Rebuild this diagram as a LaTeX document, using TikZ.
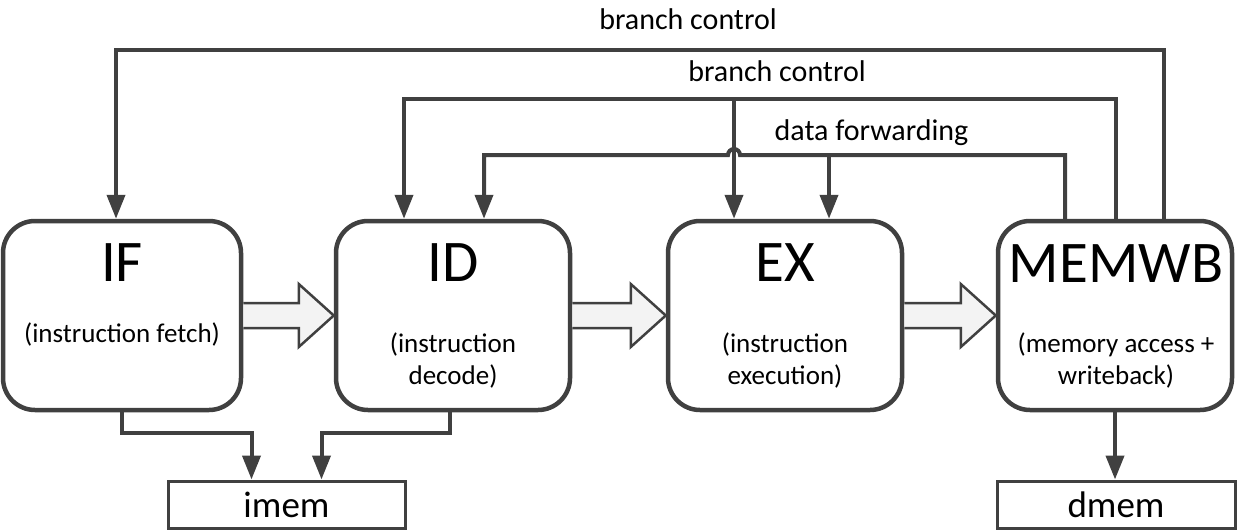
\documentclass[tikz,border=0pt]{standalone}
\usepackage{fontspec}
\setmainfont{Carlito}
\usetikzlibrary{arrows.meta,calc}
\definecolor{lc}{HTML}{404040}
\definecolor{fatfill}{HTML}{F3F3F3}
\tikzset{
  stage/.style={draw=lc, line width=4.5pt, rounded corners=32pt, fill=white,
    minimum width=234pt, minimum height=189pt, inner sep=0pt},
  mem/.style={draw=lc, line width=3pt, fill=white,
    minimum width=237pt, minimum height=47pt, inner sep=0pt,
    font=\fontsize{37}{40}\selectfont},
  big/.style={inner sep=0pt, anchor=base, font=\fontsize{59}{62}\selectfont},
  small/.style={inner sep=0pt, anchor=base, font=\fontsize{27}{32}\selectfont},
  lab/.style={inner sep=0pt, anchor=base, font=\fontsize{30}{34}\selectfont},
  arr/.style={draw=lc, line width=4pt, -{Triangle[width=18pt,length=24pt]}},
  fat/.style={draw=lc, line width=2.5pt, fill=fatfill, line join=miter},
}
\newcommand{\fatarr}[2]{%
  \draw[fat] ([yshift=12.5pt]#1.east) -- ([xshift=-35pt,yshift=12.5pt]#2.west)
    -- ([xshift=-35pt,yshift=31.5pt]#2.west) -- (#2.west)
    -- ([xshift=-35pt,yshift=-31.5pt]#2.west) -- ([xshift=-35pt,yshift=-12.5pt]#2.west)
    -- ([yshift=-12.5pt]#1.east);}
\begin{document}
\begin{tikzpicture}[x=1pt,y=-1pt]
\useasboundingbox (0,0) rectangle (1238,532);
% helper heights
\coordinate (hb1) at (0,50);
\coordinate (hb2) at (0,99);
\coordinate (hdf) at (0,155);
\coordinate (hlow) at (0,433);
% stages
\node[stage, minimum width=238pt] (if) at (122,315.5) {};
\node[stage] (id) at (453,315.5) {};
\node[stage] (ex) at (785,315.5) {};
\node[stage] (mw) at (1115,315.5) {};
% memories
\node[mem] (imem) at (286.5,504.5) {imem};
\node[mem, minimum width=238pt] (dmem) at (1116,504.5) {dmem};
% stage texts
\node[big] (ift) at (122,281) {IF};
\node[small] (ifs) at (122,342) {(instruction fetch)};
\node[big] (idt) at (453,281) {ID};
\node[small] (ids1) at (453,352) {(instruction};
\node[small] (ids2) at (453,384) {decode)};
\node[big] (ext) at (785,281) {EX};
\node[small] (exs1) at (785,352) {(instruction};
\node[small] (exs2) at (785,384) {execution)};
\node[big] (mwt) at (1116,282) {MEMWB};
\node[small] (mws1) at (1116,352) {(memory access +};
\node[small] (mws2) at (1116,384) {writeback)};
% fat arrows
\fatarr{if}{id}
\fatarr{id}{ex}
\fatarr{ex}{mw}
% feedback connectors
\draw[arr] ([xshift=49pt]mw.north) -- ([xshift=49pt]mw.north |- hb1) -| ([xshift=-6pt]if.north);
\draw[arr] ([xshift=1pt]mw.north) -- ([xshift=1pt]mw.north |- hb2) -| ([xshift=-49pt]id.north);
\draw[arr] ([xshift=-51pt]ex.north |- hb2) -- ([xshift=-51pt]ex.north);
\draw[arr] ([xshift=-50pt]mw.north) -- ([xshift=-50pt]mw.north |- hdf)
  -- ([xshift=-45pt]ex.north |- hdf) arc[start angle=0, end angle=-180, radius=6]
  -- ([xshift=31pt]id.north |- hdf) -- ([xshift=31pt]id.north);
\draw[arr] ([xshift=44pt]ex.north |- hdf) -- ([xshift=44pt]ex.north);
% labels
\node[lab] (lbc1) at (688,30) {branch control};
\node[lab] (lbc2) at (777,82) {branch control};
\node[lab] (ldf) at (871.5,140) {data forwarding};
% memory connectors
\draw[arr] (if.south) -- (if.south |- hlow) -| ([xshift=-35pt]imem.north);
\draw[arr] ([xshift=-3pt]id.south) -- ([xshift=-3pt]id.south |- hlow) -| ([xshift=35pt]imem.north);
\draw[arr] (mw.south) -- (mw.south |- dmem.north);
\end{tikzpicture}
\end{document}
